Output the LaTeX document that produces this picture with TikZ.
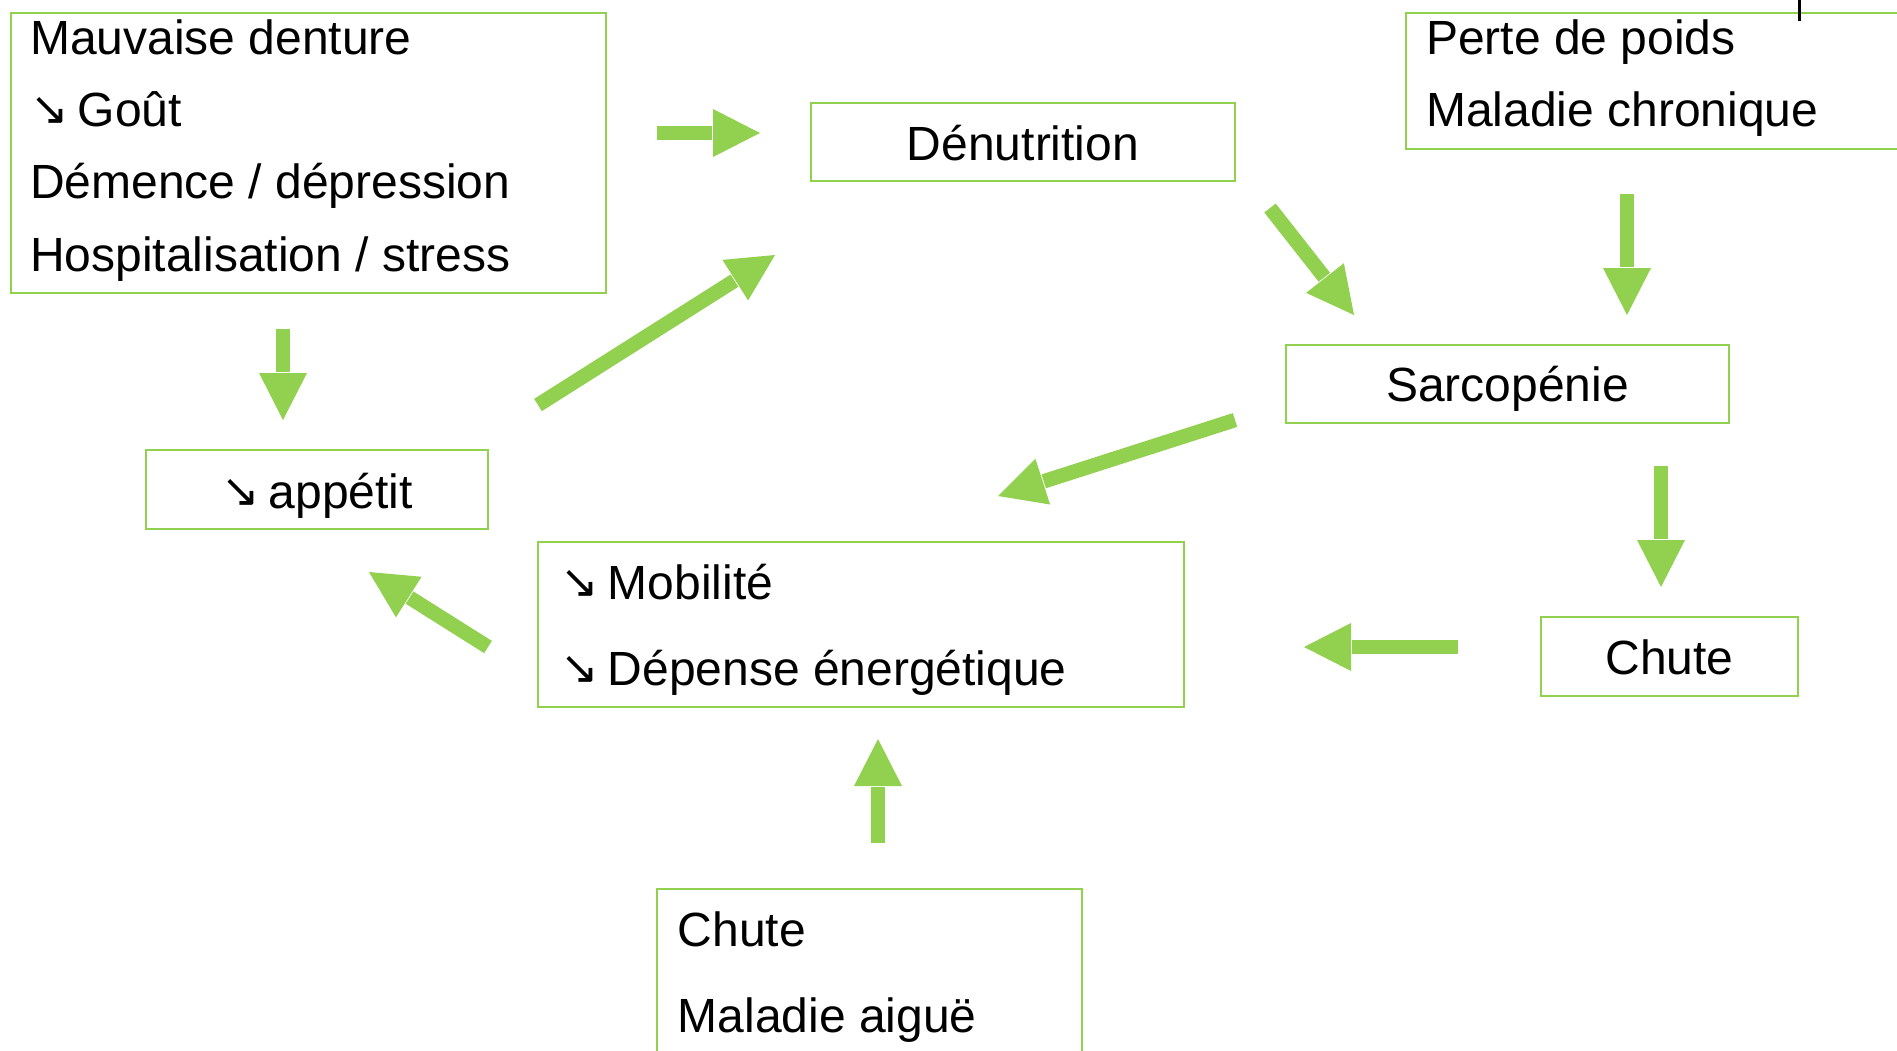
\documentclass[tikz,border=0pt]{standalone}
\usepackage{fontspec}
\setmainfont{Liberation Sans}
\newfontfamily\arrfont{DejaVu Sans}
\usetikzlibrary{calc}
\definecolor{lgreen}{HTML}{92D050}
\newcommand\dn{\raisebox{2pt}{\arrfont\fontsize{46}{50}\selectfont ↘}\hspace{9pt}}
\newcommand\fatarrow[2]{%
  \coordinate (fb) at ($(#2)!47pt!(#1)$);
  \draw[shaft] (#1) -- ($(fb)!-1pt!(#2)$);
  \fill[lgreen] ($(fb)!24pt!90:(#2)$) -- (#2) -- ($(fb)!24pt!-90:(#2)$) -- cycle;
}
\begin{document}
\begin{tikzpicture}[x=1pt,y=-1pt,
  box/.style={draw=lgreen, line width=2.8pt, inner sep=0pt, outer sep=0pt, fill=none},
  txt/.style={anchor=base west, inner sep=0pt, font=\fontsize{48}{57}\selectfont},
  ctxt/.style={anchor=base, inner sep=0pt, font=\fontsize{48}{57}\selectfont},
  shaft/.style={draw=lgreen, line width=14.5pt}]
\useasboundingbox (0,0) rectangle (1897,1050);
\clip (0,0) rectangle (1897,1050);
% boxes
\node[box, minimum width=595pt, minimum height=280pt] (A) at (308.5,153) {};
\node[box, minimum width=424pt, minimum height=78pt] (D) at (1023,142) {};
\node[box, minimum width=514pt, minimum height=136pt] (TR) at (1663,81) {};
\node[box, minimum width=443pt, minimum height=78pt] (S) at (1507.5,384) {};
\node[box, minimum width=342pt, minimum height=79pt] (P) at (317,489.5) {};
\node[box, minimum width=646pt, minimum height=165pt] (M) at (861,624.5) {};
\node[box, minimum width=257pt, minimum height=79pt] (C) at (1669.5,656.5) {};
\node[box, minimum width=425pt, minimum height=181pt] (B) at (869.5,979.5) {};
% texts
\node[txt] (a1) at (30,54.5) {Mauvaise denture};
\node[txt] (a2) at (30,126) {\dn Goût};
\node[txt] (a3) at (30,198.5) {Démence / dépression};
\node[txt] (a4) at (30,271) {Hospitalisation / stress};
\node[ctxt] (dt) at (1023,160) {Dénutrition};
\node[txt] (t1) at (1426,54.5) {Perte de poids};
\node[txt] (t2) at (1426,126) {Maladie chronique};
\node[ctxt] (st) at (1507.5,401.5) {Sarcopénie};
\node[ctxt] (pt) at (317,508) {\dn appétit};
\node[txt] (m1) at (560,599) {\dn Mobilité};
\node[txt] (m2) at (560,685) {\dn Dépense énergétique};
\node[ctxt] (ct) at (1669.5,674) {Chute};
\node[txt] (b1) at (677.5,946) {Chute};
\node[txt] (b2) at (677.5,1032) {Maladie aiguë};
% arrow end points
\coordinate (r1s) at (657,133);  \coordinate (r1e) at (760,133);
\coordinate (r2s) at (1270,208); \coordinate (r2e) at (1354,315);
\coordinate (r3s) at (1627,194); \coordinate (r3e) at (1627,315);
\coordinate (r4s) at (1661,466); \coordinate (r4e) at (1661,587);
\coordinate (r5s) at (1458,647); \coordinate (r5e) at (1304,647);
\coordinate (r6s) at (1235,420); \coordinate (r6e) at (998,496);
\coordinate (r7s) at (488,647);  \coordinate (r7e) at (369,572);
\coordinate (r8s) at (538,405);  \coordinate (r8e) at (775,255);
\coordinate (r9s) at (283,329);  \coordinate (r9e) at (283,420);
\coordinate (r10s) at (878,843); \coordinate (r10e) at (878,739);
\fatarrow{r1s}{r1e}
\fatarrow{r2s}{r2e}
\fatarrow{r3s}{r3e}
\fatarrow{r4s}{r4e}
\fatarrow{r5s}{r5e}
\fatarrow{r6s}{r6e}
\fatarrow{r7s}{r7e}
\fatarrow{r8s}{r8e}
\fatarrow{r9s}{r9e}
\fatarrow{r10s}{r10e}
% small black tick
\coordinate (k1) at (1799,0); \coordinate (k2) at (1799,21);
\draw[line width=3pt] (k1) -- (k2);
\end{tikzpicture}
\end{document}
